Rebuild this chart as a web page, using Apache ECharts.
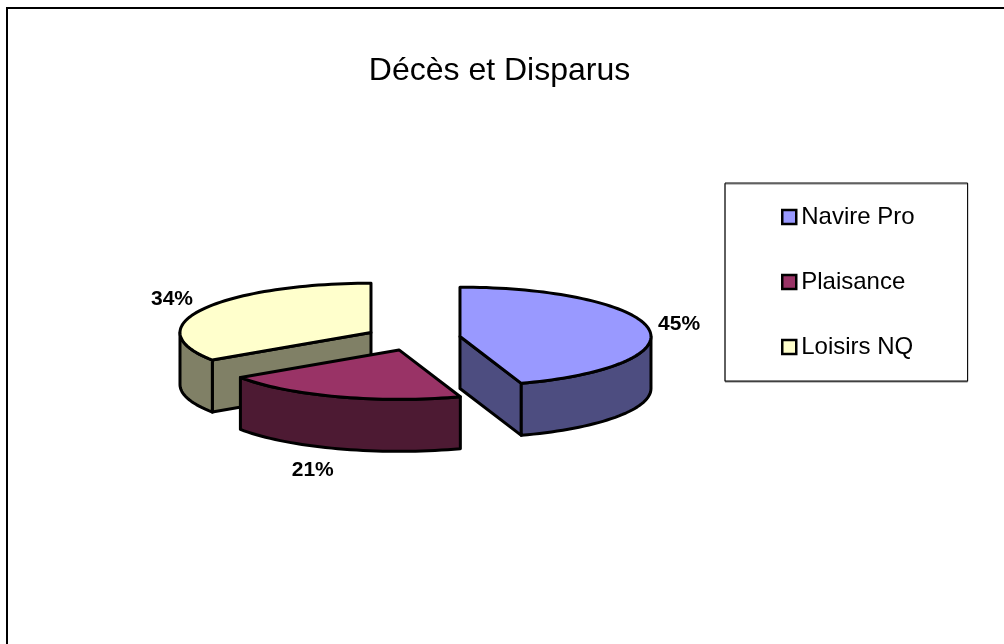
<!DOCTYPE html>
<html>
<head>
<meta charset="utf-8">
<title>Décès et Disparus</title>
<script src="https://cdn.jsdelivr.net/npm/echarts@6/dist/echarts.min.js"></script>
<style>
html, body { margin: 0; padding: 0; background: #fff; overflow: hidden; }
#box { width: 1004px; height: 644px; }
</style>
</head>
<body>
<div id="box"></div>
<script>
const categories = ['Navire Pro', 'Plaisance', 'Loisirs NQ'];
const values = [44.8, 20.8, 34.4];
const topColors = ['#9999FF', '#993366', '#FFFFCC'];
const sideColors = ['#4D4D80', '#4D1A33', '#808066'];

// drawing layout of the tilted pie
const font = '"Liberation Sans", Arial, sans-serif';
const centerX = 414;
const centerY = 338.5;
const radiusX = 191;
const radiusY = 49.4;
const depth = 52;
const explode = [46.6, 46.6, 48.75];
const labelShift = [[30.6, -4.5], [-25, 74], [-30.5, -10.5]];

const total = values.reduce(function (a, b) { return a + b; }, 0);
const rad = Math.PI / 180;

function sliceAngles(index) {
    let start = 0;
    for (let i = 0; i < index; i++) start += values[i] / total * 360;
    return [start, start + values[index] / total * 360];
}

function arc(cx, cy, from, to, dy) {
    const pts = [];
    const steps = Math.max(1, Math.ceil((to - from) / 2));
    for (let i = 0; i <= steps; i++) {
        const a = (from + (to - from) * i / steps) * rad;
        pts.push([cx + radiusX * Math.sin(a), cy - radiusY * Math.cos(a) + dy]);
    }
    return pts;
}

function renderSlice(index) {
    return function (params, api) {
        const share = api.value(0) / total;
        const angles = sliceAngles(index);
        const a0 = angles[0];
        const a1 = angles[1];
        const mid = (a0 + a1) / 2 * rad;
        const cx = centerX + explode[index] * Math.sin(mid);
        const cy = centerY - explode[index] * radiusY / radiusX * Math.cos(mid);
        const lineStyle = { stroke: '#000', lineWidth: 3, lineJoin: 'round' };
        const children = [];

        function face(points, fill) {
            children.push({
                type: 'polygon',
                shape: { points: points },
                style: Object.assign({ fill: fill }, lineStyle)
            });
        }

        function cut(angle) {
            const p = arc(cx, cy, angle, angle, 0)[0];
            face([[cx, cy], p, [p[0], p[1] + depth], [cx, cy + depth]], sideColors[index]);
        }

        // cut faces turned towards the viewer
        if (Math.sin(a1 * rad) > 0.01) cut(a1);
        if (Math.sin(a0 * rad) < -0.01) cut(a0);

        // outer wall, front half of the ellipse only
        const wallFrom = Math.max(a0, 90);
        const wallTo = Math.min(a1, 270);
        if (wallTo > wallFrom) {
            const upper = arc(cx, cy, wallFrom, wallTo, 0);
            const lower = arc(cx, cy, wallFrom, wallTo, depth).reverse();
            face(upper.concat(lower), sideColors[index]);
        }

        // top face
        face([[cx, cy]].concat(arc(cx, cy, a0, a1, 0)), topColors[index]);

        children.push({
            type: 'text',
            style: {
                text: Math.round(share * 100) + '%',
                x: cx + radiusX * Math.sin(mid) + labelShift[index][0],
                y: cy - radiusY * Math.cos(mid) + labelShift[index][1],
                align: 'center',
                verticalAlign: 'middle',
                fill: '#000',
                font: 'bold 21px ' + font
            }
        });
        return { type: 'group', children: children };
    };
}

const chart = echarts.init(document.getElementById('box'));

chart.setOption({
    animation: false,
    backgroundColor: '#fff',
    title: {
        text: 'Décès et Disparus',
        left: 494.5,
        top: 50,
        textAlign: 'center',
        textStyle: { color: '#000', fontFamily: font, fontWeight: 'normal', fontSize: 32 }
    },
    legend: {
        orient: 'vertical',
        left: 725,
        top: 183,
        padding: [22, 53, 22, 56],
        itemGap: 41,
        itemWidth: 14,
        itemHeight: 14,
        icon: 'rect',
        backgroundColor: '#fff',
        borderColor: '#000',
        borderWidth: 1,
        shadowColor: '#808080',
        shadowOffsetY: 1,
        selectedMode: false,
        itemStyle: { borderColor: '#000', borderWidth: 2.5 },
        textStyle: { color: '#000', fontFamily: font, fontSize: 24 },
        data: categories
    },
    graphic: [
        { type: 'line', shape: { x1: 7, y1: 7, x2: 7, y2: 644 }, style: { stroke: '#000', lineWidth: 2 } },
        { type: 'line', shape: { x1: 6, y1: 8, x2: 1004, y2: 8 }, style: { stroke: '#000', lineWidth: 2 } }
    ],
    series: categories.map(function (name, i) {
        return {
            name: name,
            type: 'custom',
            coordinateSystem: 'none',
            z: i === 1 ? 3 : 2,
            itemStyle: { color: topColors[i] },
            renderItem: renderSlice(i),
            data: [[values[i]]]
        };
    })
});
</script>
</body>
</html>
